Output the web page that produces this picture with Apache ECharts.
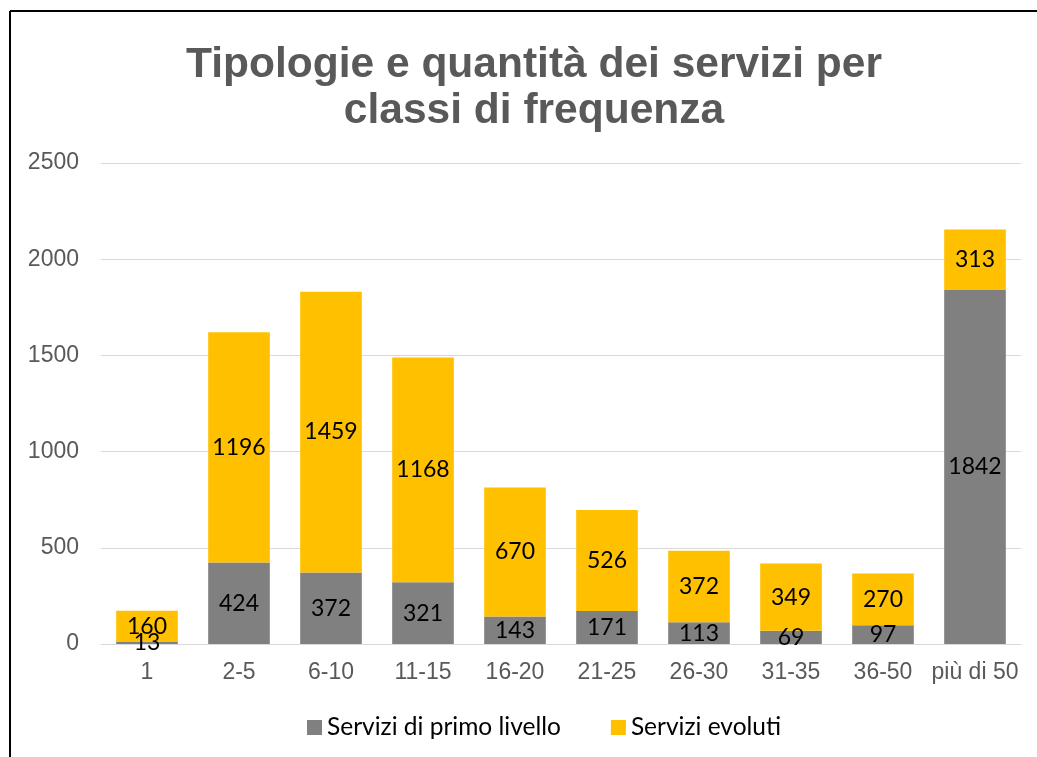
<!DOCTYPE html>
<html><head><meta charset="utf-8">
<script src="https://cdn.jsdelivr.net/npm/echarts@6/dist/echarts.min.js"></script>
<style>html,body{margin:0;padding:0;background:#fff}#c{width:1037px;height:757px}</style>
</head><body><div id="c"></div>
<script>
const categories = ['1','2-5','6-10','11-15','16-20','21-25','26-30','31-35','36-50','più di 50'];
const primoLivello = [13,424,372,321,143,171,113,69,97,1842];
const evoluti = [160,1196,1459,1168,670,526,372,349,270,313];
const seriesNames = ['Servizi di primo livello','Servizi evoluti'];
const titleText = 'Tipologie e quantità dei servizi per\nclassi di frequenza';

const chart = echarts.init(document.getElementById('c'), null, {renderer:'canvas'});
const labelStyle = {show:true, position:'inside', color:'#000', fontSize:23, fontFamily:'Lato, "Open Sans", sans-serif'};
chart.setOption({
  animation:false,
  graphic:[
    {type:'line', shape:{x1:10,y1:11,x2:1037,y2:11}, style:{stroke:'#000',lineWidth:2}},
    {type:'line', shape:{x1:10,y1:11,x2:10,y2:757}, style:{stroke:'#000',lineWidth:2}}
  ],
  title:{text:titleText, left:529, textAlign:'center', top:37,
    textStyle:{fontSize:42.5, fontWeight:'bold', color:'#595959', fontFamily:'"Liberation Sans", Arial, sans-serif', lineHeight:46}},
  legend:{bottom:12, left:302, itemWidth:15, itemHeight:15, itemGap:50,
    icon:'rect', data:seriesNames,
    textStyle:{fontSize:24.5, color:'#000', fontFamily:'Lato, "Open Sans", sans-serif'}},
  grid:{left:101, right:16, top:163, bottom:113, containLabel:false},
  xAxis:{type:'category', data:categories,
    axisLine:{lineStyle:{color:'#d9d9d9', width:1}}, axisTick:{show:false},
    axisLabel:{interval:0, fontSize:23, color:'#595959', margin:17, fontFamily:'"Liberation Sans", Arial, sans-serif'}},
  yAxis:{type:'value', min:0, max:2500, interval:500,
    axisLine:{show:false}, axisTick:{show:false},
    splitLine:{lineStyle:{color:'#d9d9d9', width:1}},
    axisLabel:{fontSize:23, color:'#595959', margin:22, formatter:v=>String(v), fontFamily:'"Liberation Sans", Arial, sans-serif'}},
  series:[
    {name:seriesNames[0], type:'bar', stack:'t', data:primoLivello, barWidth:'67%',
     itemStyle:{color:'#808080'}, label:labelStyle},
    {name:seriesNames[1], type:'bar', stack:'t', data:evoluti, barWidth:'67%',
     itemStyle:{color:'#FFC000'}, label:labelStyle}
  ]
});
</script></body></html>
